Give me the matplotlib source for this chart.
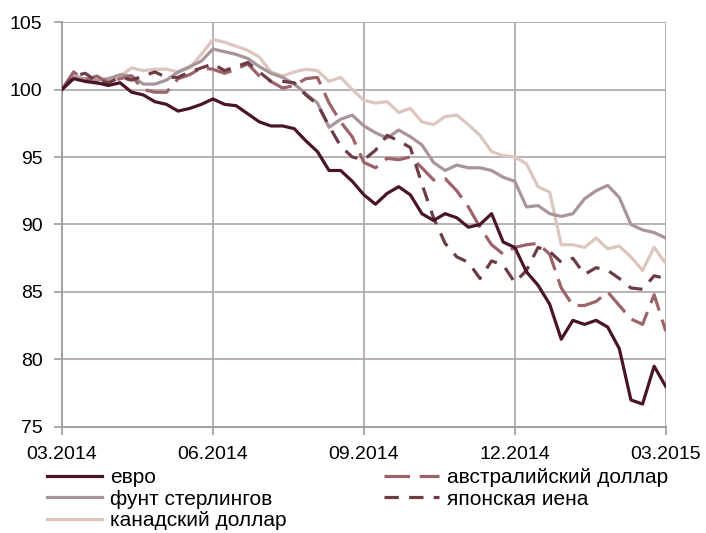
import matplotlib
matplotlib.use('Agg')
import matplotlib.pyplot as plt
import numpy as np

plt.rcParams['font.family'] = ['Liberation Sans', 'DejaVu Sans']

# Weekly index values, 03.2014 = 100 (week 0 .. week 52)
euro = [100.0, 100.8, 100.6, 100.5, 100.3, 100.5, 99.8, 99.6, 99.1, 98.9,
        98.4, 98.6, 98.9, 99.3, 98.9, 98.8, 98.2, 97.6, 97.3, 97.3,
        97.1, 96.2, 95.4, 94.0, 94.0, 93.2, 92.2, 91.5, 92.3, 92.8,
        92.2, 90.8, 90.3, 90.8, 90.5, 89.8, 90.0, 90.8, 88.7, 88.3,
        86.5, 85.5, 84.1, 81.5, 82.9, 82.6, 82.9, 82.4, 80.8, 77.0,
        76.7, 79.5, 78.0]
pound = [100.0, 100.9, 100.8, 100.7, 100.8, 101.1, 101.0, 100.4, 100.4, 100.7,
         101.3, 101.7, 102.1, 103.0, 102.8, 102.6, 102.3, 101.7, 101.2, 100.9,
         100.4, 99.7, 99.0, 97.2, 97.8, 98.1, 97.3, 96.8, 96.4, 97.0,
         96.5, 95.9, 94.6, 94.0, 94.4, 94.2, 94.2, 94.0, 93.5, 93.2,
         91.3, 91.4, 90.8, 90.6, 90.8, 91.9, 92.5, 92.9, 92.0, 90.0,
         89.6, 89.4, 89.0]
cad = [100.0, 101.2, 100.6, 100.4, 100.6, 101.0, 101.6, 101.4, 101.5, 101.5,
       101.3, 101.6, 102.6, 103.7, 103.5, 103.2, 102.9, 102.4, 101.3, 101.0,
       101.3, 101.5, 101.4, 100.6, 100.9, 100.0, 99.2, 99.0, 99.1, 98.3,
       98.6, 97.6, 97.4, 98.0, 98.1, 97.4, 96.6, 95.4, 95.1, 95.0,
       94.5, 92.8, 92.4, 88.5, 88.5, 88.3, 89.0, 88.2, 88.4, 87.6,
       86.6, 88.3, 87.1]
aud = [100.0, 101.3, 100.7, 101.0, 100.5, 100.8, 101.0, 100.0, 99.8, 99.8,
       100.8, 101.1, 101.6, 101.5, 101.2, 101.5, 101.9, 101.0, 100.6, 100.1,
       100.3, 100.8, 100.9, 99.0, 97.6, 96.5, 94.6, 94.2, 94.9, 94.8,
       95.0, 94.2, 93.3, 93.4, 92.5, 91.3, 89.8, 88.5, 87.8, 88.3,
       88.5, 88.6, 87.8, 85.3, 84.0, 84.0, 84.3, 85.0, 84.0, 83.0,
       82.6, 84.8, 82.1]
yen = [100.0, 101.0, 101.2, 100.6, 100.5, 100.9, 100.7, 101.0, 101.3, 100.9,
       100.9, 101.3, 101.6, 101.9, 101.4, 101.7, 102.0, 101.3, 100.6, 100.6,
       100.5, 99.6, 98.9, 97.3, 95.8, 95.0, 94.8, 95.5, 96.6, 96.2,
       95.7, 93.0, 90.5, 88.6, 87.6, 87.2, 86.0, 87.3, 87.0, 85.7,
       86.6, 88.3, 88.0, 87.2, 87.5, 86.3, 86.8, 86.6, 86.0, 85.3,
       85.2, 86.2, 86.0]

tick_labels = ['03.2014', '06.2014', '09.2014', '12.2014', '03.2015']
weeks = np.arange(len(euro))

fig = plt.figure(figsize=(7.06, 5.33), dpi=100)
ax = fig.add_axes([0.0878, 0.1989, 0.8552, 0.7598])

lw = 2.3
ax.plot(weeks, euro, color='#4a1428', lw=lw, label='евро', zorder=5)
ax.plot(weeks, pound, color='#a8959a', lw=lw, label='фунт стерлингов', zorder=3)
ax.plot(weeks, cad, color='#dcc6bd', lw=lw, label='канадский доллар', zorder=2)
ax.plot(weeks, aud, color='#9c6368', lw=lw, dashes=(8, 3), label='австралийский доллар', zorder=4)
ax.plot(weeks, yen, color='#6b3c44', lw=lw, dashes=(4.5, 3.2), label='японская иена', zorder=4)

ax.set_xlim(0, 52)
ax.set_ylim(75, 105)
ax.set_xticks([0, 13, 26, 39, 52])
ax.set_xticklabels(tick_labels)
ax.set_yticks([75, 80, 85, 90, 95, 100, 105])
ax.tick_params(labelsize=14, length=6, width=1.2, color='#a09a9c', pad=8)
ax.grid(True, color='#b3aaad', linewidth=1.3)
ax.set_axisbelow(True)
for s in ['top', 'right']:
    ax.spines[s].set_visible(False)
for s in ['left', 'bottom']:
    ax.spines[s].set_color('#a09a9c')
    ax.spines[s].set_linewidth(1.3)

h, l = ax.get_legend_handles_labels()
fig.legend(h, l, loc='upper left', bbox_to_anchor=(0.066, 0.122), ncol=2,
           frameon=False, fontsize=15, handlelength=2.65, handletextpad=0.38,
           columnspacing=4.7, labelspacing=0.13, borderaxespad=0, borderpad=0)

fig.savefig('out.png', dpi=100)
